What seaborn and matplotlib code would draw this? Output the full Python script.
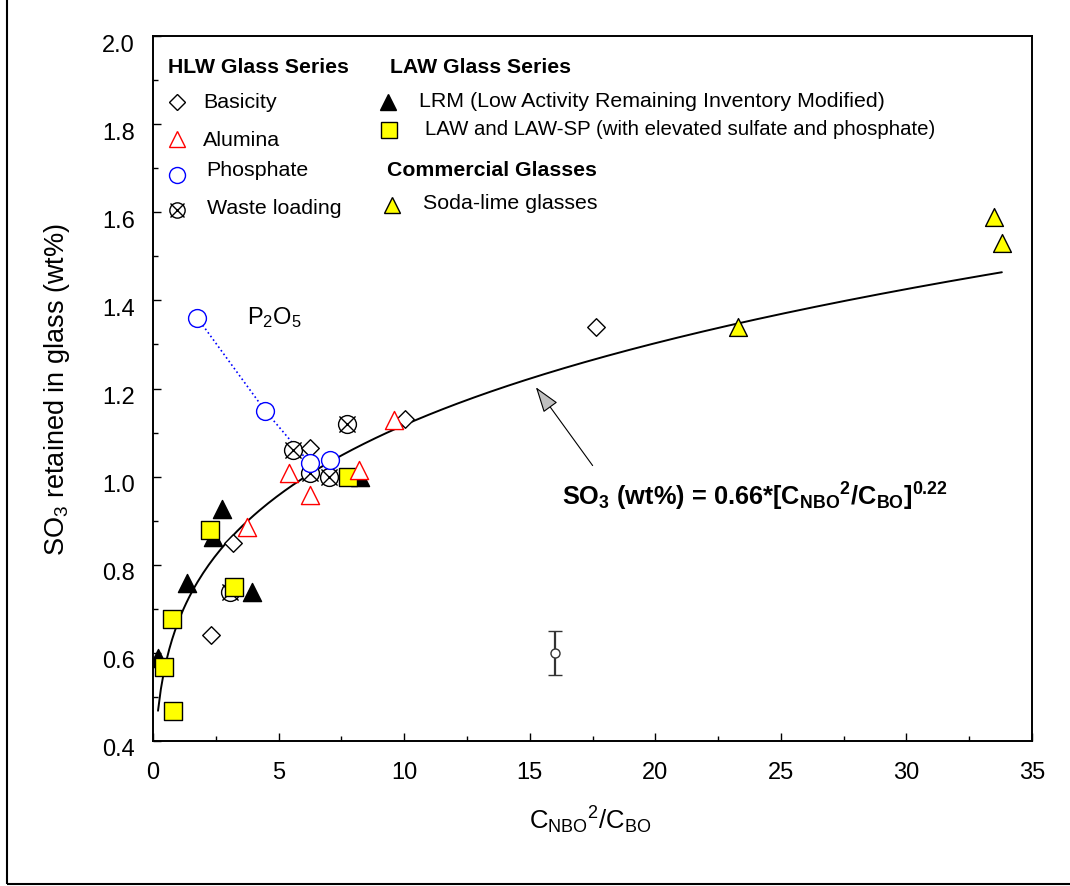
import numpy as np
import seaborn as sns
import matplotlib.pyplot as plt
from matplotlib.transforms import ScaledTranslation
from matplotlib.patches import Rectangle
from matplotlib.ticker import MultipleLocator

# HLW glass series
basicity_x = [2.3, 3.2, 6.25, 10.05, 17.65]
basicity_y = [0.64, 0.85, 1.065, 1.13, 1.34]
alumina_x = [3.73, 5.43, 6.25, 8.22, 9.6]
alumina_y = [0.886, 1.008, 0.958, 1.015, 1.129]
phosphate_x = [1.77, 4.46, 6.25, 7.05]
phosphate_y = [1.36, 1.15, 1.03, 1.038]
waste_x = [3.05, 5.59, 6.25, 7.0, 7.74]
waste_y = [0.739, 1.06, 1.008, 1.0, 1.119]

# LAW glass series
lrm_x = [0.21, 1.37, 2.4, 2.74, 3.93, 8.25]
lrm_y = [0.588, 0.758, 0.864, 0.926, 0.739, 1.0]
law_x = [0.44, 0.77, 0.81, 2.27, 3.23, 7.78]
law_y = [0.569, 0.678, 0.469, 0.879, 0.75, 0.999]

# commercial glasses
soda_x = [23.3, 33.5, 33.8]
soda_y = [1.34, 1.589, 1.53]

# typical uncertainty
err_x, err_y, err_dy = 16.0, 0.60, 0.05

# power-law fit, as drawn
fit_a, fit_b = 0.67, 0.222
fit_xmin, fit_xmax = 0.2, 33.8

sns.set_style("white")
plt.rcParams["font.family"] = ["Liberation Sans", "DejaVu Sans"]
plt.rcParams["mathtext.default"] = "regular"
plt.rcParams["text.color"] = "black"
plt.rcParams["axes.labelcolor"] = "black"
plt.rcParams["xtick.color"] = "black"
plt.rcParams["ytick.color"] = "black"

fig = plt.figure(figsize=(10.7, 8.86), dpi=100)
ax = fig.add_axes([153 / 1070, 145 / 886, 879 / 1070, 705 / 886])

# fitted curve
fit_x = np.linspace(fit_xmin, fit_xmax, 300)
sns.lineplot(x=fit_x, y=fit_a * fit_x ** fit_b, color="black", linewidth=1.4,
             ax=ax, zorder=2)

# dotted line through the phosphate glasses
sns.lineplot(x=phosphate_x[:3], y=phosphate_y[:3], color="blue", linestyle=":",
             linewidth=1.2, sort=False, ax=ax, zorder=2)


def pts(x, y, marker, s, edge, fill, z):
    sns.scatterplot(x=x, y=y, marker=marker, s=s, color=edge, edgecolor=edge,
                    facecolor=fill, linewidth=1, ax=ax, zorder=z)


pts(waste_x, waste_y, "o", 165, "black", "white", 3)
sns.scatterplot(x=waste_x, y=waste_y, marker="x", s=135, color="black",
                linewidth=1, ax=ax, zorder=3)
pts(basicity_x, basicity_y, "D", 80, "black", "white", 4)
pts(lrm_x, lrm_y, "^", 170, "black", "black", 5)
pts(law_x, law_y, "s", 175, "black", "#ffff00", 6)
pts(alumina_x, alumina_y, "^", 170, "red", "white", 7)
pts(phosphate_x, phosphate_y, "o", 165, "blue", "white", 8)
pts(soda_x, soda_y, "^", 165, "black", "#ffff00", 8)

ax.errorbar(err_x, err_y, yerr=err_dy, fmt="o", ms=6.5, mfc="white", mec="#333333",
            mew=1, ecolor="#333333", elinewidth=1.6, capsize=5, capthick=1.4, zorder=5)

# arrow + fit equation
ax.annotate("", xy=(15.18, 1.208), xytext=(17.57, 1.02),
            arrowprops=dict(arrowstyle="-|>,head_length=0.9,head_width=0.3",
                            fc="#c0c0c0", ec="black", lw=0.8, mutation_scale=18))
ax.text(16.28, 0.954, "SO$_3$ (wt%) = 0.66*[C$_{NBO}$$^2$/C$_{BO}$]$^{0.22}$",
        fontsize=18.3, fontweight="bold", ha="left", va="center")
ax.text(0.107, 0.600, "P$_2$O$_5$", transform=ax.transAxes, fontsize=17,
        ha="left", va="center")

# legend block
tA = ax.transAxes
hdr = dict(transform=tA, fontsize=15.3, fontweight="bold", ha="left", va="center")
lab = dict(transform=tA, fontsize=15.4, ha="left", va="center")
ax.text(0.017, 0.956, "HLW Glass Series", **hdr)
ax.text(0.270, 0.956, "LAW Glass Series", **hdr)
ax.text(0.266, 0.809, "Commercial Glasses", **hdr)


def key(x, y, **kw):
    ax.plot([x], [y], transform=tA, linestyle="none", clip_on=False, **kw)


key(0.027, 0.906, marker="D", ms=8.5, mfc="white", mec="black", mew=1)
ax.text(0.057, 0.906, "Basicity", **lab)
key(0.027, 0.854, marker="^", ms=12, mfc="white", mec="red", mew=1)
ax.text(0.057, 0.852, "Alumina", **lab)
key(0.027, 0.803, marker="o", ms=11.5, mfc="white", mec="blue", mew=1)
ax.text(0.061, 0.809, "Phosphate", **lab)
key(0.027, 0.753, marker="o", ms=11, mfc="white", mec="black", mew=1)
key(0.027, 0.753, marker="x", ms=10, mec="black", mew=1)
ax.text(0.061, 0.756, "Waste loading", **lab)
key(0.267, 0.907, marker="^", ms=11, mfc="black", mec="black", mew=1)
ax.text(0.303, 0.907, "LRM (Low Activity Remaining Inventory Modified)", **lab)
key(0.268, 0.867, marker="s", ms=11.5, mfc="#ffff00", mec="black", mew=1)
ax.text(0.309, 0.867, "LAW and LAW-SP (with elevated sulfate and phosphate)",
        **dict(lab, fontsize=14.7))
key(0.2716, 0.760, marker="^", ms=12, mfc="#ffff00", mec="black", mew=1)
ax.text(0.307, 0.762, "Soda-lime glasses", **lab)

# axes styling
ax.set_xlim(0, 35)
ax.set_ylim(0.4, 2.0)
ax.xaxis.set_major_locator(MultipleLocator(5))
ax.xaxis.set_minor_locator(MultipleLocator(2.5))
ax.yaxis.set_major_locator(MultipleLocator(0.2))
ax.yaxis.set_minor_locator(MultipleLocator(0.1))
ax.yaxis.set_major_formatter(plt.FormatStrFormatter("%.1f"))
ax.tick_params(which="both", direction="in", bottom=True, left=True, top=False,
               right=False, width=1, colors="black")
ax.tick_params(which="major", length=6, labelsize=17)
ax.tick_params(which="minor", length=3.5)
ax.tick_params(axis="x", which="major", pad=15)
ax.tick_params(axis="y", which="major", pad=13)
for s in ax.spines.values():
    s.set_color("black")
    s.set_linewidth(1.4)
shift = ScaledTranslation(0, -7 / 100, fig.dpi_scale_trans)
for t in ax.get_yticklabels():
    t.set_transform(t.get_transform() + shift)

ax.set_xlabel("C$_{NBO}$$^2$/C$_{BO}$", fontsize=18.5)
ax.set_ylabel("SO$_3$ retained in glass (wt%)", fontsize=19.5)
ax.xaxis.set_label_coords(0.497, -0.09)
ax.yaxis.set_label_coords(-0.092, 0.498)

# outer frame
fig.patches.append(Rectangle((7 / 1070, 2 / 886), 2, 2, transform=fig.transFigure,
                             fill=False, ec="black", lw=1.5))

fig.savefig("out.png", dpi=100)
